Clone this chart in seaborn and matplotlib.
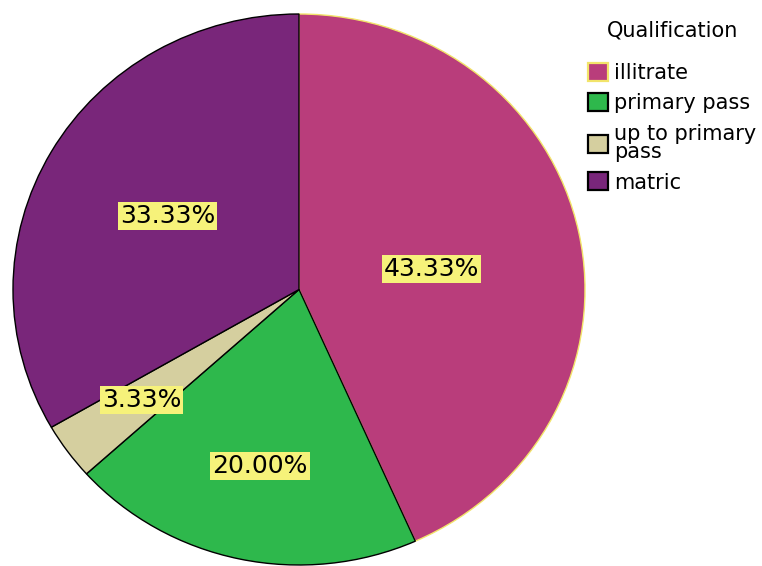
import numpy as np
import matplotlib
matplotlib.use("Agg")
import matplotlib.pyplot as plt
import seaborn as sns

# data (counts out of 30)
categories = ["illitrate", "primary pass", "up to primary\npass", "matric"]
counts = [13, 6, 1, 10]
slice_colors = ["#B93D7B", "#2EB84C", "#D5CF9F", "#79267A"]
edge_colors = ["#F2E46A", "black", "black", "black"]
label_dist = [0.47, 0.655, 0.68, 0.53]

sns.set_theme(style="white")
plt.rcParams['font.family'] = ['DejaVu Sans']
plt.rcParams['text.color'] = 'black'

fig = plt.figure(figsize=(7.62, 5.66), dpi=100)
ax = fig.add_axes([13 / 762, 1 - 565 / 566, 572 / 762, 551 / 566])

wedges, _ = ax.pie(counts, colors=slice_colors, startangle=90, counterclock=False,
                   wedgeprops=dict(linewidth=1.0))
for w, ec in zip(wedges, edge_colors):
    w.set_edgecolor(ec)
    w.set_clip_on(False)

# stretched pie like the original export
ax.set_aspect('auto')
ax.set_xlim(-1, 1)
ax.set_ylim(-1, 1)
ax.axis('off')

total = sum(counts)
for i, (w, c, d) in enumerate(zip(wedges, counts, label_dist)):
    ang = (w.theta1 + w.theta2) / 2
    if i == 0:
        ang -= 3  # label sits a bit lower in the original
    mid = np.deg2rad(ang)
    ax.text(d * np.cos(mid), d * np.sin(mid), f"{c / total * 100:.2f}%",
            ha='center', va='center', fontsize=18, color='black',
            bbox=dict(boxstyle='square,pad=0.08', fc='#F6F27A', ec='none'))

leg = fig.legend(wedges, categories, title='Qualification', loc='upper left',
                 bbox_to_anchor=(580 / 762, 1 - 12 / 566), frameon=False,
                 fontsize=15, title_fontsize=15, handlelength=0.95, handleheight=0.95,
                 handletextpad=0.3, labelspacing=0.5, borderaxespad=0)
for t in leg.get_texts():
    t.set_linespacing(0.9)
    t.set_color('black')
leg.get_title().set_color('black')
for h in leg.legend_handles:
    h.set_linewidth(1.6)
leg._legend_box.sep = 16

fig.savefig("out.png", dpi=100)
